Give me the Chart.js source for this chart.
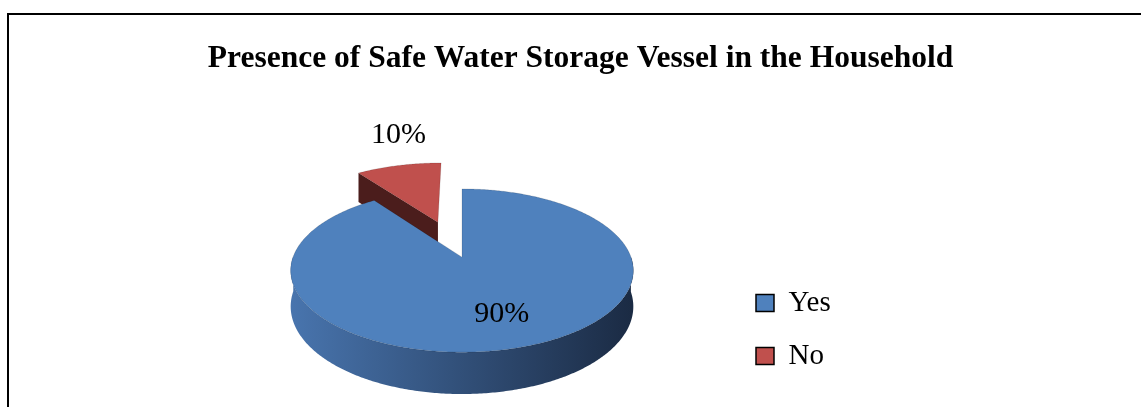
<!DOCTYPE html>
<html>
<head>
<meta charset="utf-8">
<title>Safe Water Storage Vessel</title>
<script src="https://cdn.jsdelivr.net/npm/chart.js@4.4.1/dist/chart.umd.min.js"></script>
<style>
  body { margin: 0; background: #fff; }
  #frame { position: absolute; left: 7px; top: 13px; width: 1200px; height: 500px; border-left: 2px solid #000; border-top: 2px solid #000; }
  #pie { position: absolute; left: 0; top: 0; }
</style>
</head>
<body>
<div id="frame"></div>
<canvas id="pie" width="1141" height="407"></canvas>
<script>
// households with a safe storage vessel (%)
const categories = ['Yes', 'No'];
const percentages = [90, 10];
// how far each slice is pulled out of the pie (px)
const explode = [0, 84];

const topColors = ['#4f81bd', '#c0504d'];
const wallLight = ['#4874ad', '#8a3634'];
const wallDark = ['#1b2b44', '#3a1514'];
const edgeColors = ['#2c4a75', '#4b1d1c'];

// 3d look of the disc
const tilt = 0.47;          // vertical squash
const perspective = 0.164;  // front grows, back shrinks
const depth = 35;           // thickness in px
const labelSize = 30;

Chart.defaults.font.family = '"Liberation Serif", "Times New Roman", serif';

// put a point of the (flat) pie into the tilted view
function toScreen(s, u, v, z) {
    let k = 1 / (1 - perspective * v / s.r);
    return [s.cx + u * k, s.cy + (tilt * v - z) * k];
}

function rim(s, a, z) {
    return toScreen(s, s.ox + s.r * Math.cos(a), s.oy + s.r * Math.sin(a), z);
}

function apex(s, z) {
    return toScreen(s, s.ox, s.oy, z);
}

// legend gets a fixed width so the pie sits left of it
const legendWidth = {
    id: 'legendWidth',
    beforeInit(chart) {
        const fit = chart.legend.fit;
        chart.legend.fit = function () {
            fit.call(this);
            this.width = 237;
        };
    }
};

const pie3d = {
    id: 'pie3d',
    beforeDatasetsDraw(chart) {
        const ctx = chart.ctx;
        const values = chart.data.datasets[0].data;
        const total = values.reduce((a, b) => a + b, 0);
        let slices = chart.getDatasetMeta(0).data.map((arc, i) => {
            const p = arc.getProps(['x', 'y', 'startAngle', 'endAngle', 'outerRadius']);
            const mid = (p.startAngle + p.endAngle) / 2;
            const off = arc.options.offset || 0;
            return {
                i: i, cx: p.x, cy: p.y, r: p.outerRadius,
                a0: p.startAngle, a1: p.endAngle, mid: mid,
                ox: Math.cos(mid) * off, oy: Math.sin(mid) * off
            };
        });
        // back slices first
        slices.sort((a, b) => (a.oy + a.r * Math.sin(a.mid)) - (b.oy + b.r * Math.sin(b.mid)));

        ctx.save();
        slices.forEach(s => {
            const steps = Math.max(8, Math.ceil((s.a1 - s.a0) * 90));

            // cut faces along the radius
            [[s.a0, -Math.cos(s.a0)], [s.a1, Math.cos(s.a1)]].forEach(edge => {
                if (edge[1] <= 0.01) return;
                const a = edge[0];
                const p1 = apex(s, 0), p2 = rim(s, a, 0), p3 = rim(s, a, -depth), p4 = apex(s, -depth);
                ctx.beginPath();
                ctx.moveTo(p1[0], p1[1]);
                ctx.lineTo(p2[0], p2[1]);
                ctx.lineTo(p3[0], p3[1]);
                ctx.lineTo(p4[0], p4[1]);
                ctx.closePath();
                ctx.fillStyle = edgeColors[s.i];
                ctx.fill();
            });

            // outer wall, front half only
            let runs = [], run = [];
            for (let j = 0; j <= steps; j++) {
                const a = s.a0 + (s.a1 - s.a0) * j / steps;
                if (Math.sin(a) > -0.01) {
                    run.push(a);
                } else if (run.length) {
                    runs.push(run);
                    run = [];
                }
            }
            if (run.length) runs.push(run);
            const grad = ctx.createLinearGradient(s.cx - s.r, 0, s.cx + s.r, 0);
            grad.addColorStop(0, wallLight[s.i]);
            grad.addColorStop(1, wallDark[s.i]);
            runs.forEach(r => {
                if (r.length < 2) return;
                ctx.beginPath();
                r.forEach((a, j) => {
                    const p = rim(s, a, 0);
                    if (j == 0) ctx.moveTo(p[0], p[1]); else ctx.lineTo(p[0], p[1]);
                });
                for (let j = r.length - 1; j >= 0; j--) {
                    const p = rim(s, r[j], -depth);
                    ctx.lineTo(p[0], p[1]);
                }
                ctx.closePath();
                ctx.fillStyle = grad;
                ctx.fill();
            });

            // top face
            ctx.beginPath();
            const c = apex(s, 0);
            ctx.moveTo(c[0], c[1]);
            for (let j = 0; j <= steps; j++) {
                const p = rim(s, s.a0 + (s.a1 - s.a0) * j / steps, 0);
                ctx.lineTo(p[0], p[1]);
            }
            ctx.closePath();
            ctx.fillStyle = topColors[s.i];
            ctx.fill();
            ctx.strokeStyle = 'rgba(0,0,0,0.12)';
            ctx.lineWidth = 1;
            ctx.stroke();
        });

        // value labels: big slices inside, small ones above the rim
        ctx.font = labelSize + 'px "Liberation Serif", "Times New Roman", serif';
        ctx.fillStyle = '#000';
        ctx.textAlign = 'center';
        ctx.textBaseline = 'middle';
        slices.forEach(s => {
            let p;
            if (values[s.i] / total >= 0.25) {
                p = toScreen(s, s.ox + 0.68 * s.r * Math.cos(s.mid), s.oy + 0.68 * s.r * Math.sin(s.mid), 0);
            } else {
                p = rim(s, s.mid, 0);
                p[1] -= labelSize;
            }
            ctx.fillText(values[s.i] + '%', p[0], p[1]);
        });
        ctx.restore();
        return false;
    }
};

new Chart(document.getElementById('pie'), {
    type: 'pie',
    data: {
        labels: categories,
        datasets: [{
            data: percentages,
            backgroundColor: topColors,
            offset: explode,
            borderWidth: 0
        }]
    },
    options: {
        responsive: false,
        animation: false,
        radius: 169,
        layout: { padding: { left: 192, right: 172, top: 0, bottom: 12.5 } },
        plugins: {
            title: {
                display: true,
                text: 'Presence of Safe Water Storage Vessel in the Household',
                color: '#000',
                font: { size: 31.5, weight: 'bold' },
                padding: { top: 40, bottom: 42 }
            },
            legend: {
                position: 'right',
                align: 'end',
                labels: {
                    color: '#000',
                    font: { size: 29 },
                    boxWidth: 18,
                    boxHeight: 17,
                    padding: 24,
                    generateLabels(chart) {
                        const items = Chart.overrides.pie.plugins.legend.labels.generateLabels(chart);
                        items.forEach(it => {
                            it.strokeStyle = '#000';
                            it.lineWidth = 1.5;
                        });
                        return items;
                    }
                }
            },
            tooltip: { enabled: false }
        }
    },
    plugins: [legendWidth, pie3d]
});
</script>
</body>
</html>
